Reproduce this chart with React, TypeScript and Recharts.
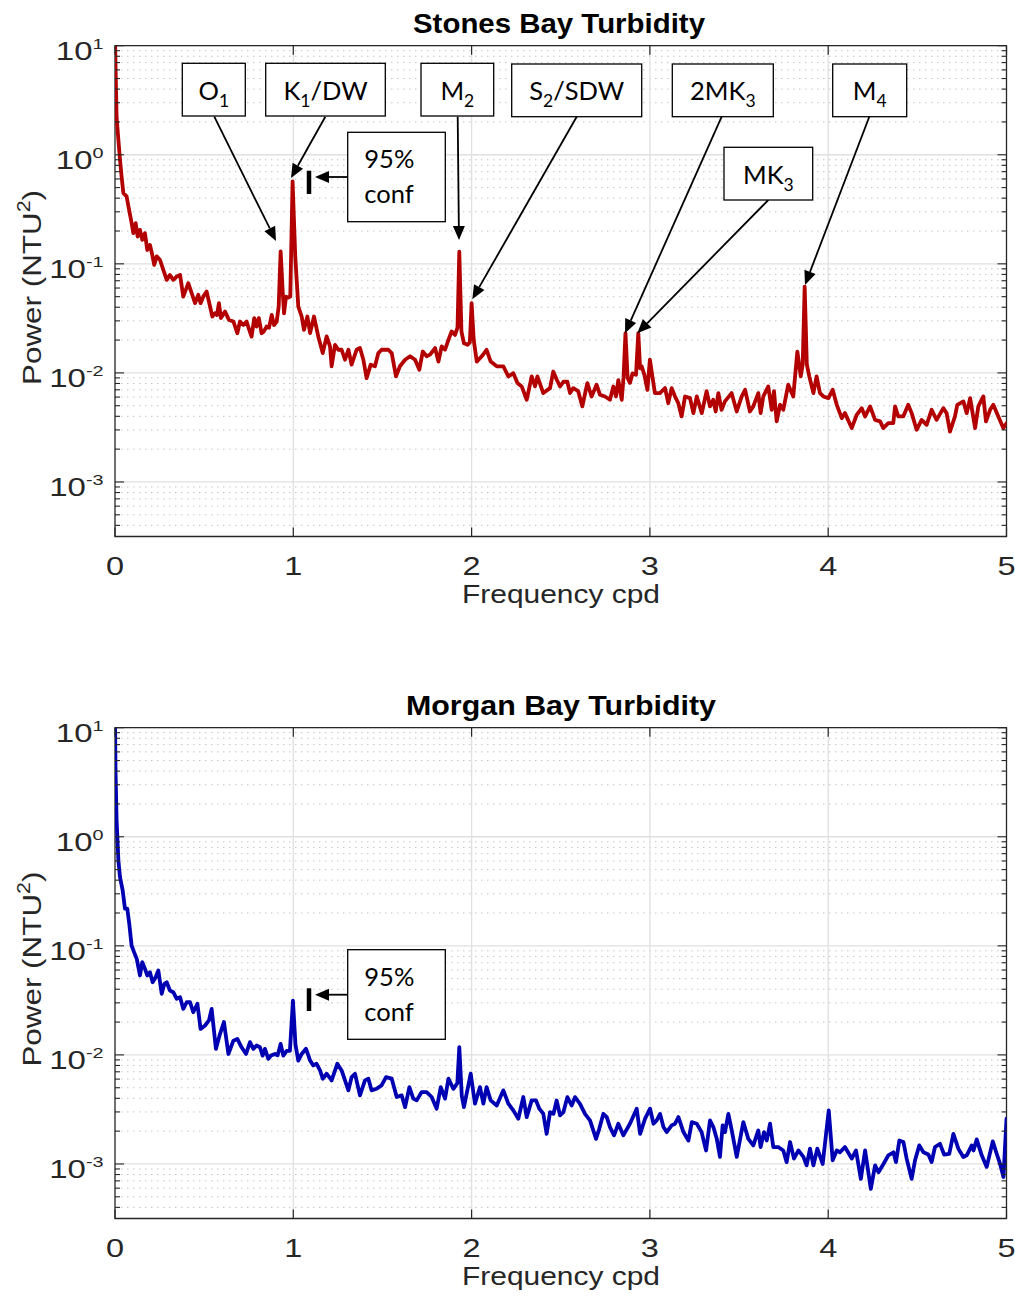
import React from "react";
import { LineChart, Line, XAxis, YAxis, CartesianGrid, ReferenceArea } from "recharts";

// ---------- DATA (frequency cpd, power NTU^2) ----------
const stonesBay: [number, number][] = [
  [0, 12], [0.004, 5.5], [0.009, 2.2], [0.019, 1.37], [0.028, 0.9], [0.037, 0.63], [0.047, 0.445],
  [0.065, 0.415], [0.079, 0.313], [0.09, 0.253], [0.103, 0.191], [0.116, 0.236], [0.127, 0.178],
  [0.14, 0.205], [0.153, 0.166], [0.168, 0.191], [0.181, 0.134], [0.196, 0.149], [0.209, 0.121],
  [0.22, 0.098], [0.234, 0.117], [0.252, 0.109], [0.271, 0.088], [0.29, 0.0713], [0.308, 0.079],
  [0.327, 0.0713], [0.346, 0.0765], [0.365, 0.079], [0.383, 0.05], [0.411, 0.0665], [0.43, 0.0538],
  [0.449, 0.0436], [0.467, 0.052], [0.48, 0.0436], [0.495, 0.05], [0.514, 0.0557], [0.533, 0.0406],
  [0.546, 0.0329], [0.561, 0.0352], [0.572, 0.034], [0.583, 0.0436], [0.594, 0.0318], [0.617, 0.0365],
  [0.639, 0.0306], [0.664, 0.0296], [0.686, 0.0231], [0.701, 0.0296], [0.72, 0.0275], [0.738, 0.0296],
  [0.753, 0.0248], [0.766, 0.0215], [0.781, 0.0318], [0.794, 0.0266], [0.807, 0.0318], [0.822, 0.0231],
  [0.835, 0.024], [0.85, 0.0266], [0.864, 0.026], [0.879, 0.034], [0.892, 0.0275], [0.907, 0.0296],
  [0.918, 0.0406], [0.929, 0.13], [0.94, 0.0577], [0.948, 0.0352], [0.959, 0.05], [0.972, 0.049],
  [0.983, 0.05], [0.996, 0.569], [1.011, 0.117], [1.028, 0.0406], [1.047, 0.0329], [1.06, 0.0248],
  [1.079, 0.0329], [1.094, 0.0232], [1.116, 0.0329], [1.14, 0.0216], [1.165, 0.0152], [1.187, 0.0216],
  [1.206, 0.0175], [1.215, 0.0115], [1.234, 0.0181], [1.252, 0.0163], [1.271, 0.0163], [1.29, 0.0132],
  [1.309, 0.0163], [1.327, 0.0119], [1.355, 0.0163], [1.374, 0.0169], [1.393, 0.0132], [1.411, 0.00896],
  [1.434, 0.0119], [1.458, 0.0115], [1.477, 0.0152], [1.495, 0.0163], [1.514, 0.0163], [1.533, 0.0163],
  [1.552, 0.0152], [1.576, 0.00928], [1.598, 0.0115], [1.627, 0.0132], [1.655, 0.0142], [1.683, 0.0132],
  [1.707, 0.0107], [1.726, 0.0157], [1.748, 0.0142], [1.767, 0.0147], [1.795, 0.0169], [1.814, 0.0127],
  [1.832, 0.0175], [1.851, 0.0163], [1.87, 0.0201], [1.888, 0.024], [1.907, 0.0223], [1.921, 0.026],
  [1.931, 0.129], [1.943, 0.024], [1.957, 0.0187], [1.978, 0.0181], [1.99, 0.019], [2.0, 0.0435],
  [2.012, 0.02], [2.029, 0.0127], [2.057, 0.0142], [2.084, 0.0163], [2.107, 0.0127], [2.141, 0.0115],
  [2.178, 0.0115], [2.206, 0.00928], [2.234, 0.00995], [2.257, 0.00807], [2.281, 0.00752], [2.309, 0.00567],
  [2.337, 0.00928], [2.356, 0.00752], [2.369, 0.00928], [2.402, 0.00653], [2.44, 0.00725], [2.458, 0.0103],
  [2.477, 0.0087], [2.496, 0.0075], [2.515, 0.0083], [2.537, 0.0083], [2.552, 0.00653], [2.57, 0.00725],
  [2.598, 0.0068], [2.621, 0.00493], [2.649, 0.00807], [2.673, 0.00608], [2.701, 0.0078], [2.72, 0.0063],
  [2.748, 0.00608], [2.776, 0.00567], [2.795, 0.0075], [2.81, 0.00608], [2.823, 0.0086], [2.842, 0.00567],
  [2.852, 0.009], [2.863, 0.0232], [2.875, 0.009], [2.888, 0.0081], [2.903, 0.0099], [2.922, 0.0096],
  [2.935, 0.0232], [2.945, 0.011], [2.954, 0.0115], [2.969, 0.0096], [2.986, 0.007], [3.0, 0.0132],
  [3.028, 0.00653], [3.056, 0.00653], [3.085, 0.00725], [3.103, 0.00529], [3.122, 0.00725], [3.141, 0.00608],
  [3.159, 0.00529], [3.178, 0.00399], [3.197, 0.00608], [3.225, 0.00587], [3.244, 0.00428], [3.263, 0.00608],
  [3.291, 0.00428], [3.318, 0.0068], [3.337, 0.00493], [3.355, 0.00567], [3.369, 0.00443], [3.384, 0.00653],
  [3.402, 0.00459], [3.421, 0.00548], [3.458, 0.00653], [3.487, 0.00443], [3.515, 0.00608], [3.534, 0.007],
  [3.561, 0.00443], [3.58, 0.00493], [3.608, 0.00653], [3.621, 0.00428], [3.636, 0.00608], [3.664, 0.00752],
  [3.683, 0.00459], [3.696, 0.0068], [3.711, 0.00359], [3.73, 0.0051], [3.748, 0.00459], [3.776, 0.0078],
  [3.804, 0.00608], [3.827, 0.0157], [3.846, 0.0093], [3.857, 0.012], [3.868, 0.0618], [3.88, 0.012],
  [3.894, 0.0093], [3.917, 0.00653], [3.935, 0.0093], [3.954, 0.00653], [3.973, 0.00608], [4.001, 0.00587],
  [4.025, 0.007], [4.048, 0.0051], [4.076, 0.00385], [4.094, 0.00428], [4.132, 0.00312], [4.16, 0.00413],
  [4.188, 0.00475], [4.207, 0.00399], [4.235, 0.00493], [4.263, 0.00371], [4.291, 0.00359], [4.309, 0.00312],
  [4.337, 0.00346], [4.365, 0.00346], [4.375, 0.00493], [4.393, 0.00399], [4.421, 0.00399], [4.449, 0.0051],
  [4.468, 0.00428], [4.496, 0.00301], [4.524, 0.00371], [4.552, 0.00334], [4.58, 0.00459], [4.608, 0.00371],
  [4.646, 0.00475], [4.664, 0.00428], [4.683, 0.0029], [4.711, 0.00399], [4.724, 0.0051], [4.758, 0.00548],
  [4.777, 0.00428], [4.796, 0.00587], [4.824, 0.00312], [4.842, 0.00493], [4.87, 0.00608], [4.885, 0.00359],
  [4.908, 0.00459], [4.926, 0.0051], [4.954, 0.00399], [4.982, 0.00312], [5.0, 0.00346],
];

const morganBay: [number, number][] = [
  [0, 12], [0.003, 4.0], [0.009, 1.41], [0.019, 0.607], [0.028, 0.427], [0.043, 0.322], [0.056, 0.219],
  [0.069, 0.219], [0.08, 0.159], [0.093, 0.1007], [0.107, 0.0875], [0.122, 0.076], [0.14, 0.0535],
  [0.153, 0.0708], [0.168, 0.0615], [0.181, 0.0535], [0.196, 0.0573], [0.211, 0.0464], [0.228, 0.0516],
  [0.243, 0.0594], [0.262, 0.0363], [0.277, 0.0448], [0.29, 0.0464], [0.308, 0.0389], [0.327, 0.0376],
  [0.346, 0.0327], [0.365, 0.0338], [0.383, 0.0264], [0.402, 0.0304], [0.421, 0.0304], [0.439, 0.0246],
  [0.462, 0.0294], [0.48, 0.0173], [0.505, 0.0186], [0.527, 0.0207], [0.542, 0.0264], [0.566, 0.01135],
  [0.589, 0.0156], [0.611, 0.02], [0.636, 0.0102], [0.664, 0.0135], [0.686, 0.014], [0.71, 0.01175],
  [0.735, 0.0102], [0.757, 0.0131], [0.776, 0.01135], [0.794, 0.0122], [0.813, 0.01175], [0.828, 0.00986],
  [0.841, 0.01135], [0.86, 0.0092], [0.875, 0.00986], [0.897, 0.0102], [0.912, 0.0099], [0.929, 0.0126],
  [0.944, 0.00986], [0.963, 0.0109], [0.981, 0.0109], [0.998, 0.0315], [1.012, 0.0125], [1.028, 0.00887],
  [1.047, 0.0102], [1.071, 0.0114], [1.094, 0.00891], [1.112, 0.00801], [1.13, 0.0083], [1.15, 0.0072],
  [1.165, 0.00605], [1.187, 0.00672], [1.215, 0.00584], [1.247, 0.0083], [1.271, 0.0072], [1.309, 0.00473],
  [1.327, 0.00626], [1.346, 0.00672], [1.374, 0.00425], [1.402, 0.00584], [1.421, 0.00605], [1.439, 0.00473],
  [1.467, 0.00489], [1.495, 0.00525], [1.52, 0.00626], [1.552, 0.00605], [1.58, 0.00411], [1.608, 0.00425],
  [1.627, 0.00332], [1.651, 0.00507], [1.673, 0.00397], [1.692, 0.00383], [1.72, 0.00456], [1.748, 0.00456],
  [1.776, 0.00411], [1.804, 0.00321], [1.827, 0.00507], [1.851, 0.00397], [1.87, 0.00605], [1.898, 0.00489],
  [1.92, 0.0055], [1.931, 0.0118], [1.945, 0.0042], [1.957, 0.00332], [1.995, 0.00672], [2.019, 0.00357],
  [2.047, 0.00507], [2.066, 0.00357], [2.084, 0.00507], [2.107, 0.00383], [2.141, 0.00344], [2.178, 0.00473],
  [2.206, 0.00357], [2.234, 0.0031], [2.262, 0.0026], [2.29, 0.00411], [2.309, 0.00269], [2.337, 0.00383],
  [2.361, 0.00383], [2.38, 0.00321], [2.402, 0.00289], [2.421, 0.00189], [2.44, 0.00299], [2.459, 0.00288],
  [2.477, 0.00382], [2.496, 0.00279], [2.515, 0.00299], [2.537, 0.0041], [2.561, 0.00344], [2.58, 0.0041],
  [2.608, 0.00356], [2.636, 0.00288], [2.664, 0.00251], [2.698, 0.0017], [2.716, 0.0021], [2.739, 0.00288],
  [2.758, 0.00269], [2.776, 0.00218], [2.799, 0.00183], [2.823, 0.00234], [2.851, 0.00183], [2.888, 0.00234],
  [2.926, 0.00321], [2.945, 0.00189], [2.973, 0.0026], [3.001, 0.00321], [3.02, 0.00234], [3.038, 0.00251],
  [3.057, 0.00288], [3.076, 0.00218], [3.094, 0.00196], [3.122, 0.00226], [3.141, 0.00234], [3.16, 0.00269],
  [3.188, 0.00196], [3.216, 0.00164], [3.235, 0.00242], [3.263, 0.00234], [3.29, 0.00196], [3.315, 0.00133],
  [3.337, 0.00251], [3.356, 0.00218], [3.375, 0.0017], [3.393, 0.00116], [3.408, 0.00226], [3.421, 0.00196],
  [3.44, 0.00288], [3.459, 0.00203], [3.487, 0.00116], [3.524, 0.00242], [3.552, 0.0017], [3.58, 0.00148],
  [3.608, 0.00203], [3.621, 0.00143], [3.64, 0.00196], [3.655, 0.00164], [3.674, 0.00234], [3.692, 0.00143],
  [3.72, 0.00143], [3.748, 0.00133], [3.767, 0.00104], [3.786, 0.00159], [3.808, 0.00112], [3.833, 0.00133],
  [3.861, 0.00116], [3.879, 0.00097], [3.898, 0.00138], [3.917, 0.00097], [3.939, 0.00138], [3.969, 0.001],
  [4.003, 0.0031], [4.025, 0.00108], [4.048, 0.00133], [4.066, 0.00128], [4.094, 0.00143], [4.132, 0.00112],
  [4.156, 0.00133], [4.183, 0.00073], [4.207, 0.00133], [4.239, 0.00059], [4.263, 0.00097], [4.282, 0.00084],
  [4.31, 0.001], [4.337, 0.0012], [4.366, 0.00128], [4.38, 0.00104], [4.399, 0.00164], [4.422, 0.00159],
  [4.44, 0.00112], [4.468, 0.00073], [4.487, 0.00108], [4.511, 0.00148], [4.534, 0.00128], [4.562, 0.00122],
  [4.58, 0.00104], [4.599, 0.00143], [4.627, 0.00153], [4.65, 0.00122], [4.679, 0.00124], [4.702, 0.00189],
  [4.73, 0.00138], [4.758, 0.00116], [4.777, 0.0012], [4.805, 0.00148], [4.815, 0.00133], [4.833, 0.00168],
  [4.861, 0.0012], [4.889, 0.00094], [4.923, 0.00161], [4.945, 0.00124], [4.964, 0.001], [4.983, 0.00076],
  [5.0, 0.0026],
];

const xTicks = [0, 1, 2, 3, 4, 5];
const xGridValues = [1, 2, 3, 4];
const decadeTicks = [0.001, 0.01, 0.1, 1, 10];
const decadeExponents = ["-3", "-2", "-1", "0", "1"];
const minorDecades = [0.0001, 0.001, 0.01, 0.1, 1];
const minorMantissas = [2, 3, 4, 5, 6, 7, 8, 9];
const Y_MIN = 0.000316228;
const Y_MAX = 10;

// ---------- LAYOUT ----------
const W = 1015;
const CH = 640;
const PL = 115;
const PR = 1006.5;
const PT = 45.7;
const PB = 536.5;
const YW = 100;
const XH = 40;
const OFFSET2 = 681.6;
const AX = "#262626";
const SANS = "'Liberation Sans', Arial, Helvetica, sans-serif";
const CAL = "Lato, 'Open Sans', sans-serif";

const minorTicks = minorDecades
  .flatMap((d) => minorMantissas.map((m) => m * d))
  .filter((v) => v > Y_MIN * 1.0001 && v < Y_MAX);
const allYTicks = [...decadeTicks, ...minorTicks].sort((a, b) => a - b);

const XTick = (props: any) => {
  const { x, payload } = props;
  return (
    <g>
      <line x1={x} x2={x} y1={PB} y2={PB - 9} stroke={AX} strokeWidth={1.2} />
      <line x1={x} x2={x} y1={PT} y2={PT + 9} stroke={AX} strokeWidth={1.2} />
      <text
        transform={`translate(${x} ${PB + 38.5}) scale(1.3 1)`}
        textAnchor="middle"
        fontFamily={SANS}
        fontSize={25}
        fill={AX}
      >
        {payload.value}
      </text>
    </g>
  );
};

const YTick = (props: any) => {
  const { y, payload } = props;
  const v = payload.value;
  const idx = decadeTicks.indexOf(v);
  const major = idx >= 0;
  const len = major ? 9 : 5;
  return (
    <g>
      <line x1={PL} x2={PL + len} y1={y} y2={y} stroke={AX} strokeWidth={1.1} />
      <line x1={PR} x2={PR - len} y1={y} y2={y} stroke={AX} strokeWidth={1.1} />
      {major && (
        <text
          transform={`translate(103.5 ${y + 14}) scale(1.32 1)`}
          textAnchor="end"
          fontFamily={SANS}
          fontSize={25}
          fill={AX}
        >
          10
          <tspan dy={-10.7} fontSize={15}>
            {decadeExponents[idx]}
          </tspan>
        </text>
      )}
    </g>
  );
};

function Spectrum({ data, color }: { data: [number, number][]; color: string }) {
  const rows = data.map(([f, p]) => ({ f, p }));
  return (
    <LineChart
      width={W}
      height={CH}
      data={rows}
      margin={{ top: PT, right: W - PR, bottom: CH - PB - XH, left: PL - YW }}
    >
      <CartesianGrid
        horizontalValues={minorTicks}
        vertical={false}
        stroke="#c4c4c4"
        strokeDasharray="1.5 4.5"
        strokeWidth={1}
      />
      <CartesianGrid
        horizontalValues={decadeTicks}
        verticalValues={xGridValues}
        stroke="#e0e0e0"
        strokeWidth={1.3}
      />
      <XAxis
        dataKey="f"
        type="number"
        domain={[0, 5]}
        allowDataOverflow
        ticks={xTicks}
        interval={0}
        height={XH}
        axisLine={false}
        tickLine={false}
        tick={<XTick />}
      />
      <YAxis
        type="number"
        scale="log"
        domain={[Y_MIN, Y_MAX]}
        allowDataOverflow
        ticks={allYTicks}
        interval={0}
        width={YW}
        axisLine={false}
        tickLine={false}
        tick={<YTick />}
      />
      <Line
        dataKey="p"
        type="linear"
        stroke={color}
        strokeWidth={3.8}
        strokeLinejoin="round"
        strokeLinecap="round"
        dot={false}
        activeDot={false}
        isAnimationActive={false}
      />
      <ReferenceArea
        x1={0}
        x2={5}
        y1={Y_MIN}
        y2={Y_MAX}
        fill="none"
        stroke={AX}
        strokeWidth={1.3}
        ifOverflow="visible"
      />
    </LineChart>
  );
}

// ---------- ANNOTATIONS (figure coordinates, like MATLAB annotations) ----------
type Seg = { t: string; sub?: boolean };
type Box = { x: number; y: number; w: number; h: number; segs: Seg[] };

const topBoxes: Box[] = [
  { x: 182.3, y: 63.3, w: 63, h: 52.7, segs: [{ t: "O" }, { t: "1", sub: true }] },
  { x: 265.7, y: 63.3, w: 119.6, h: 52.7, segs: [{ t: "K" }, { t: "1", sub: true }, { t: "/DW" }] },
  { x: 421, y: 63.3, w: 72.7, h: 52.7, segs: [{ t: "M" }, { t: "2", sub: true }] },
  { x: 511.7, y: 64, w: 130, h: 52.7, segs: [{ t: "S" }, { t: "2", sub: true }, { t: "/SDW" }] },
  { x: 672.3, y: 64, w: 101, h: 52.7, segs: [{ t: "2MK" }, { t: "3", sub: true }] },
  { x: 832.7, y: 64, w: 74, h: 52.7, segs: [{ t: "M" }, { t: "4", sub: true }] },
  { x: 724, y: 147.3, w: 88.7, h: 52.7, segs: [{ t: "MK" }, { t: "3", sub: true }] },
];

const topArrows = [
  [214.3, 116.7, 276, 241],
  [325.3, 116.7, 291, 178],
  [457.7, 116.7, 459, 240],
  [576.7, 116.7, 472.3, 299.3],
  [721.7, 116.7, 625, 333.3],
  [768.3, 200, 637.3, 333.3],
  [869.3, 116.7, 805, 285],
  [347.7, 177, 315, 177],
];

const confBoxes = [
  { x: 347.7, y: 132.3, w: 97.6, h: 89.4, barTop: 170.7, barBottom: 194 },
  { x: 347.7, y: 949.7, w: 97.6, h: 89.6, barTop: 988.3, barBottom: 1011 },
];
const bottomArrows = [[347.7, 994.7, 315, 994.7]];

function Arrow({ a }: { a: number[] }) {
  const [x1, y1, x2, y2] = a;
  const dx = x2 - x1;
  const dy = y2 - y1;
  const L = Math.hypot(dx, dy);
  const ux = dx / L;
  const uy = dy / L;
  const hl = 14;
  const hw = 6;
  const bx = x2 - ux * hl;
  const by = y2 - uy * hl;
  const px = -uy;
  const py = ux;
  return (
    <g>
      <line x1={x1} y1={y1} x2={bx} y2={by} stroke="#000" strokeWidth={1.8} />
      <polygon
        points={`${x2},${y2} ${bx + px * hw},${by + py * hw} ${bx - px * hw},${by - py * hw}`}
        fill="#000"
      />
    </g>
  );
}

function LabelBox({ b }: { b: Box }) {
  return (
    <g>
      <rect x={b.x} y={b.y} width={b.w} height={b.h} fill="#fff" stroke="#000" strokeWidth={1.3} />
      <text x={b.x + b.w / 2} y={b.y + 36.3} textAnchor="middle" fontFamily={CAL} fontSize={25.5} fill="#000">
        {b.segs.map((s, i) =>
          s.sub ? (
            <tspan key={i} dy={7} fontSize={17.5}>
              {s.t}
            </tspan>
          ) : (
            <tspan key={i} dy={i > 0 && b.segs[i - 1].sub ? -7 : 0}>
              {s.t}
            </tspan>
          )
        )}
      </text>
    </g>
  );
}

function Overlay() {
  return (
    <svg
      width={W}
      height={1303}
      style={{ position: "absolute", left: 0, top: 0, pointerEvents: "none" }}
    >
      {/* titles */}
      <text x={559} y={33} textAnchor="middle" fontFamily={SANS} fontWeight="bold" fontSize={27.5}
        textLength={292} lengthAdjust="spacingAndGlyphs" fill="#000">
        Stones Bay Turbidity
      </text>
      <text x={561} y={33 + OFFSET2} textAnchor="middle" fontFamily={SANS} fontWeight="bold" fontSize={27.5}
        textLength={310} lengthAdjust="spacingAndGlyphs" fill="#000">
        Morgan Bay Turbidity
      </text>
      {/* x labels */}
      {[0, OFFSET2].map((o, i) => (
        <text key={"xl" + i} x={561} y={603.3 + o} textAnchor="middle" fontFamily={SANS} fontSize={26}
          textLength={198} lengthAdjust="spacingAndGlyphs" fill={AX}>
          Frequency cpd
        </text>
      ))}
      {/* y labels */}
      {[0, OFFSET2].map((o, i) => (
        <text key={"yl" + i} transform={`translate(41 ${287.5 + o}) rotate(-90)`} textAnchor="middle"
          fontFamily={SANS} fontSize={26.5} fill={AX} textLength={195} lengthAdjust="spacingAndGlyphs">
          Power (NTU
          <tspan dy={-11} fontSize={18}>2</tspan>
          <tspan dy={11}>)</tspan>
        </text>
      ))}
      {/* annotations */}
      {topArrows.map((a, i) => (
        <Arrow key={"ta" + i} a={a} />
      ))}
      {bottomArrows.map((a, i) => (
        <Arrow key={"ba" + i} a={a} />
      ))}
      {topBoxes.map((b, i) => (
        <LabelBox key={"tb" + i} b={b} />
      ))}
      {confBoxes.map((c, i) => (
        <g key={"cb" + i}>
          <rect x={c.x} y={c.y} width={c.w} height={c.h} fill="#fff" stroke="#000" strokeWidth={1.3} />
          <text x={c.x + 16.6} y={c.y + 36} fontFamily={CAL} fontSize={25.5} fill="#000">95%</text>
          <text x={c.x + 16.6} y={c.y + 71} fontFamily={CAL} fontSize={25.5} fill="#000">conf</text>
          <line x1={309} x2={309} y1={c.barTop} y2={c.barBottom} stroke="#000" strokeWidth={4.5} />
        </g>
      ))}
    </svg>
  );
}

export default function App() {
  return (
    <div style={{ position: "absolute", left: 0, top: 0, width: W, height: 1303, background: "#fff" }}>
      <div style={{ position: "absolute", left: 0, top: 0 }}>
        <Spectrum data={stonesBay} color="#b30000" />
      </div>
      <div style={{ position: "absolute", left: 0, top: OFFSET2 }}>
        <Spectrum data={morganBay} color="#0000b3" />
      </div>
      <Overlay />
    </div>
  );
}
